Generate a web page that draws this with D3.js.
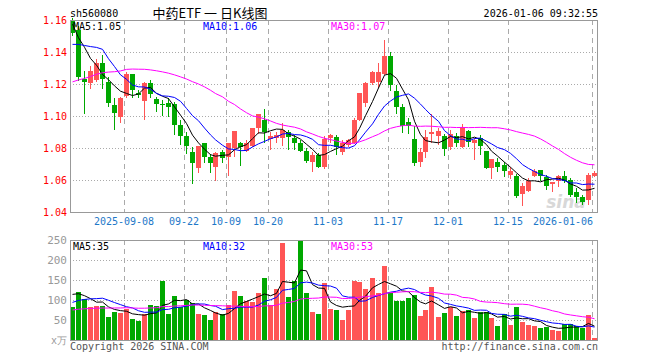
<!DOCTYPE html>
<html><head><meta charset="utf-8">
<script src="https://cdn.jsdelivr.net/npm/d3@7/dist/d3.min.js"></script>
<style>html,body{margin:0;padding:0;background:#fff;}svg{display:block;}</style>
</head><body><svg id="c" width="660" height="360"></svg>
<script>
const dates = ["2025-08-26","2025-08-27","2025-08-28","2025-08-29","2025-09-01","2025-09-02","2025-09-03","2025-09-04","2025-09-05",
"2025-09-08","2025-09-09","2025-09-10","2025-09-11","2025-09-12","2025-09-15","2025-09-16","2025-09-17","2025-09-18","2025-09-19",
"2025-09-22","2025-09-23","2025-09-24","2025-09-25","2025-09-26","2025-09-29","2025-09-30","2025-10-09","2025-10-10",
"2025-10-13","2025-10-14","2025-10-15","2025-10-16","2025-10-17","2025-10-20","2025-10-21","2025-10-22","2025-10-23","2025-10-24",
"2025-10-27","2025-10-28","2025-10-29","2025-10-30","2025-10-31","2025-11-03","2025-11-04","2025-11-05","2025-11-06","2025-11-07",
"2025-11-10","2025-11-11","2025-11-12","2025-11-13","2025-11-14","2025-11-17","2025-11-18","2025-11-19","2025-11-20","2025-11-21",
"2025-11-24","2025-11-25","2025-11-26","2025-11-27","2025-11-28","2025-12-01","2025-12-02","2025-12-03","2025-12-04","2025-12-05",
"2025-12-08","2025-12-09","2025-12-10","2025-12-11","2025-12-12","2025-12-15","2025-12-16","2025-12-17","2025-12-18","2025-12-19",
"2025-12-22","2025-12-23","2025-12-24","2025-12-25","2025-12-26","2025-12-29","2025-12-30","2025-12-31","2026-01-05","2026-01-06"];
const open  = [1.160,1.1538,1.1229,1.1204,1.1225,1.1329,1.1215,1.1069,1.0996,1.1125,1.1260,1.1146,1.1096,1.1204,1.1106,1.1077,1.1079,1.1075,1.0944,1.0877,
1.0777,1.0677,1.0829,1.0742,1.0683,1.0773,1.0746,1.0798,1.0829,1.0781,1.0815,1.0923,1.0975,1.0856,1.0860,1.0860,1.0898,1.0860,1.0829,1.0783,
1.0715,1.0756,1.0679,1.0860,1.0867,1.0777,1.0819,1.0829,1.0975,1.1083,1.1204,1.1215,1.1260,1.1377,1.1156,1.1058,1.0965,1.0856,1.0715,1.0777,
1.0885,1.0877,1.0877,1.0808,1.0877,1.0808,1.0906,1.0829,1.0860,1.0781,1.0673,1.0715,1.0694,1.0631,1.0625,1.0513,1.0533,1.0625,1.0663,1.0621,
1.0575,1.0596,1.0625,1.0600,1.0527,1.0496,1.0475,1.0625];
const high  = [1.161,1.156,1.1281,1.1313,1.1354,1.1381,1.1246,1.1110,1.1118,1.1273,1.1265,1.1163,1.1215,1.1225,1.1121,1.1098,1.1115,1.1090,1.0975,1.0902,
1.0808,1.0815,1.0829,1.0760,1.0777,1.0788,1.0829,1.0906,1.0840,1.0850,1.0923,1.1013,1.1042,1.0902,1.0902,1.0954,1.0915,1.0881,1.0850,1.0798,
1.0777,1.0767,1.0877,1.0885,1.0881,1.0850,1.0856,1.0985,1.1146,1.1215,1.1281,1.1333,1.1475,1.1398,1.1194,1.1073,1.0990,1.0938,1.0802,1.0913,
1.1010,1.0923,1.0885,1.0913,1.0892,1.0948,1.0913,1.0865,1.0881,1.0781,1.0729,1.0739,1.0715,1.0679,1.0635,1.0579,1.0610,1.0669,1.0663,1.0631,
1.0585,1.0631,1.0656,1.0610,1.0548,1.0508,1.0642,1.0656];
const low   = [1.150,1.1219,1.1011,1.1169,1.1215,1.1169,1.1058,1.0910,1.0954,1.1110,1.1110,1.1110,1.0975,1.1110,1.1027,1.1000,1.0996,1.0881,1.0819,1.0760,
1.0577,1.0645,1.0704,1.0642,1.0596,1.0704,1.0625,1.0742,1.0690,1.0775,1.0808,1.0890,1.0829,1.0788,1.0829,1.0812,1.0788,1.0788,1.0777,1.0704,
1.0652,1.0673,1.0669,1.0829,1.0756,1.0756,1.0808,1.0825,1.0970,1.1058,1.1194,1.1173,1.1254,1.1156,1.1010,1.0892,1.0885,1.0690,1.0683,1.0739,
1.0829,1.0819,1.0752,1.0788,1.0808,1.0802,1.0808,1.0725,1.0756,1.0669,1.0606,1.0652,1.0621,1.0604,1.0490,1.0440,1.0527,1.0621,1.0594,1.0538,
1.0527,1.0558,1.0579,1.0496,1.0454,1.0444,1.0444,1.0621];
const close = [1.152,1.1246,1.1212,1.1281,1.1329,1.1229,1.1083,1.1019,1.1115,1.1260,1.1163,1.1131,1.1204,1.1135,1.1075,1.1073,1.1058,1.0944,1.0877,1.0815,
1.0708,1.0815,1.0746,1.0708,1.0767,1.0735,1.0829,1.0906,1.0804,1.0829,1.0923,1.1013,1.0898,1.0877,1.0881,1.0913,1.0871,1.0829,1.0783,1.0721,
1.0756,1.0679,1.0856,1.0881,1.0808,1.0833,1.0850,1.0975,1.1146,1.1204,1.1277,1.1273,1.1377,1.1194,1.1058,1.0938,1.0938,1.0708,1.0777,1.0871,
1.0898,1.0908,1.0794,1.0888,1.0833,1.0933,1.0835,1.0850,1.0815,1.0673,1.0729,1.0683,1.0656,1.0658,1.0500,1.0563,1.0596,1.0658,1.0625,1.0565,
1.0585,1.0625,1.0596,1.0506,1.0492,1.0465,1.0631,1.0646];
const volume = [83,119,103,83,85,85,58,71,68,77.5,52.5,48,64,87.5,86,148,65,110,83,100,
92,65,62.5,50,69,64,87.5,122.5,110,97.5,94,118,156,87.5,127.5,243,108,147.5,248,118,
71,65,143,77.5,75,50,75,148,146,127.5,156,116.7,185,117,97.5,97.5,106,112.5,61,75,
133,58,68,82,59,73,76,56,69,69,56,36,64,37.5,82,46,37.5,36,29,33,
25,23,40,40,34,31,62,6];
// sessions before the first visible candle (estimated from where the MA lines start)
const priorCloses = [1.088,1.093,1.092,1.091,1.094,1.096,1.095,1.097,1.097,1.110,1.116,1.122,1.125,1.124,1.128,1.130,1.126,1.125,1.122,1.121,
1.1246,1.128,1.135,1.138,1.135,1.167,1.151,1.163,1.154];
const priorVolumes = [60,72,58,66,70,61,64,68,59,73,66,62,70,64,67,63,69,65,71,62,70,78,68,80,74,110,128,120,129];
const priceTicks = [1.16,1.14,1.12,1.10,1.08,1.06,1.04];
const volTicks = [250,200,150,100,50];
const dateTickIdx = [9,19,26,33,43,53,63,73,87];
const dateTickLabels = ["2025-09-08","09-22","10-09","10-20","11-03","11-17","12-01","12-15","2026-01-06"];
const maPeriods = [5,10,30];
const maColors = ["#000000","#0000ff","#ff00ff"];

const svg = d3.select("#c");
const L = 70, R = 598, T1 = 20, B1 = 212, T2 = 240, B2 = 340;
const n = close.length;
const x = d3.scaleLinear().domain([0, n]).range([L, R]);
const y = d3.scaleLinear().domain([1.04, 1.16]).range([B1, T1]);
const yv = d3.scaleLinear().domain([0, 250]).range([B2, T2]);
const mono = "'DejaVu Sans Mono', monospace";
const RED = "#ff5555", GREEN = "#00a800";

function ma(all, p, offset) {
  return d3.range(n).map(i => d3.mean(all.slice(offset + i - p + 1, offset + i + 1)));
}
const allC = priorCloses.concat(close), allV = priorVolumes.concat(volume);
const pMA = maPeriods.map(p => ma(allC, p, priorCloses.length));
const vMA = maPeriods.map(p => ma(allV, p, priorVolumes.length));

const cx = i => Math.floor(x(i)) + 2.5;

svg.append("defs").append("clipPath").attr("id", "cp1").append("rect").attr("x", L).attr("y", T1).attr("width", R - L).attr("height", B1 - T1);
svg.select("defs").append("clipPath").attr("id", "cp2").append("rect").attr("x", L).attr("y", T2).attr("width", R - L).attr("height", B2 - T2);

// grids
function grids(top, bot, ys) {
  const g = svg.append("g");
  ys.forEach(v => g.append("line").attr("x1", L).attr("x2", R).attr("y1", Math.round(v) + 0.5).attr("y2", Math.round(v) + 0.5)
    .attr("stroke", "#aaa").attr("stroke-dasharray", "1,2"));
  dateTickIdx.forEach(i => g.append("line").attr("x1", Math.floor(x(i)) + 0.5).attr("x2", Math.floor(x(i)) + 0.5)
    .attr("y1", top).attr("y2", bot).attr("stroke", "#aaa").attr("stroke-dasharray", "5,4"));
}
grids(T1, B1, priceTicks.slice(1, -1).map(y));
grids(T2, B2, volTicks.slice(1).map(yv));

// watermark
svg.append("text").attr("x", 566).attr("y", 208).attr("text-anchor", "middle")
  .attr("font-family", "'DejaVu Sans', sans-serif").attr("font-style", "italic").attr("font-weight", "bold")
  .attr("font-size", 17).attr("fill", "#d8d8d8").text("sina");

// candles
const cg = svg.append("g").attr("shape-rendering", "crispEdges");
d3.range(n).forEach(i => {
  const up = close[i] >= open[i];
  const col = up ? RED : GREEN;
  const x0 = Math.floor(x(i));
  const yh = Math.round(y(high[i])), yl = Math.round(y(low[i]));
  cg.append("rect").attr("x", x0 + 2).attr("width", 1).attr("y", yh).attr("height", Math.max(1, yl - yh)).attr("fill", col);
  const yt = Math.round(y(Math.max(open[i], close[i]))), yb = Math.round(y(Math.min(open[i], close[i])));
  cg.append("rect").attr("x", x0).attr("width", 5).attr("y", yt).attr("height", Math.max(1, yb - yt)).attr("fill", col);
  const vt = Math.round(yv(volume[i]));
  cg.append("rect").attr("x", x0).attr("width", 5).attr("y", vt).attr("height", B2 - vt).attr("fill", col);
});

// MA lines
const lineP = d3.line().x((d, i) => cx(i)).y(d => y(d));
const lineV = d3.line().x((d, i) => cx(i)).y(d => yv(d));
pMA.forEach((s, k) => svg.append("path").attr("clip-path", "url(#cp1)").attr("d", lineP(s)).attr("fill", "none").attr("stroke", maColors[k]).attr("stroke-width", 1));
vMA.forEach((s, k) => svg.append("path").attr("clip-path", "url(#cp2)").attr("d", lineV(s)).attr("fill", "none").attr("stroke", maColors[k]).attr("stroke-width", 1));

// borders
[[T1, B1], [T2, B2]].forEach(([t, b]) => svg.append("rect").attr("x", L + 0.5).attr("y", t + 0.5).attr("width", R - L - 1).attr("height", b - t)
  .attr("fill", "none").attr("stroke", "#999"));

// axis labels
const txt = (xx, yy, s, col, anchor, size) => svg.append("text").attr("x", xx).attr("y", yy).attr("fill", col)
  .attr("font-family", mono).attr("font-size", size || 10).attr("text-anchor", anchor || "start").text(s);
priceTicks.forEach(v => txt(67, y(v) + 4, v.toFixed(2), "#ff0000", "end"));
volTicks.forEach(v => txt(67, yv(v) + 4, String(v), "#999", "end", 11));
txt(67, B2 + 4, "x万", "#999", "end", 10);
dateTickIdx.forEach((i, k) => txt(Math.min(Math.floor(x(i)), R - 35), 225, dateTickLabels[k], "#1e78c8", "middle"));

// legends
const last = a => a[a.length - 1];
const pLab = ["MA5:", "MA10:", "MA30:"], lx = [73, 203, 331];
pLab.forEach((s, k) => txt(lx[k], 30, s + last(pMA[k]).toFixed(2), maColors[k]));
pLab.forEach((s, k) => txt(lx[k], 250, s + Math.round(last(vMA[k])), maColors[k]));

// header / footer
txt(70, 17, "sh560080", "#000");
svg.append("text").attr("x", 210).attr("y", 18).attr("text-anchor", "middle").attr("font-family", "'Noto Sans CJK SC', sans-serif")
  .attr("font-size", 13).attr("fill", "#000").text("中药ETF 一 日K线图");
txt(598, 17, "2026-01-06 09:32:55", "#000", "end");
txt(70, 350, "Copyright 2026 SINA.COM", "#555");
txt(598, 350, "http://finance.sina.com.cn", "#555", "end");
</script></body></html>
